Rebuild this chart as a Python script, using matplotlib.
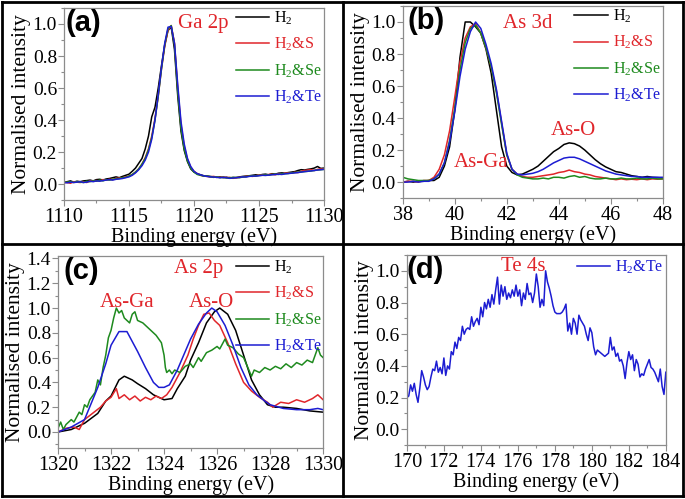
import numpy as np
import matplotlib.pyplot as plt
from matplotlib.lines import Line2D
from matplotlib.ticker import MultipleLocator, FormatStrFormatter

plt.rcParams['font.family'] = ['Liberation Serif', 'DejaVu Serif']
plt.rcParams['mathtext.fontset'] = 'custom'
plt.rcParams['mathtext.rm'] = 'Liberation Serif'
plt.rcParams['mathtext.it'] = 'Liberation Serif:italic'

labels = ['H$_2$', 'H$_2$&S', 'H$_2$&Se', 'H$_2$&Te']
colors = ['#000000', '#e0262b', '#1e8a1e', '#1c1cd2']
note_red = '#e0262b'

# (a) Ga 2p, sampled every 0.25 eV from 1110 to 1130
a_x = np.arange(1110, 1130.01, 0.25)
a_h2 = [.01, .015, .02, .012, .018, .015, .02, .022, .025, .02, .028, .03, .025, .032, .035, .04,
        .045, .04, .048, .055, .062, .08, .10, .13, .16, .22, .30, .42, .48, .60, .74, .87,
        .96, .98, .84, .55, .33, .21, .14, .095, .075, .065, .058, .052, .05, .048, .045, .042,
        .045, .04, .043, .038, .042, .04, .045, .048, .05, .052, .055, .058, .055, .06, .062, .058,
        .065, .062, .068, .07, .068, .072, .075, .078, .085, .09, .088, .092, .095, .10, .11, .098, .10]
a_s = [.01, .01, .005, .015, .012, .01, .015, .01, .02, .018, .022, .02, .028, .025, .03, .028,
       .035, .038, .04, .045, .05, .06, .075, .095, .125, .165, .22, .30, .41, .55, .72, .86,
       .96, .99, .88, .60, .37, .235, .155, .105, .08, .065, .055, .05, .048, .045, .048, .044,
       .042, .045, .04, .042, .036, .04, .042, .045, .048, .05, .048, .052, .055, .058, .055, .06,
       .062, .058, .065, .062, .068, .07, .068, .074, .072, .08, .085, .088, .09, .085, .092, .095, .095]
a_se = [.01, .012, .015, .01, .015, .012, .01, .018, .015, .02, .018, .025, .02, .028, .025, .03,
        .032, .035, .04, .042, .05, .06, .075, .095, .125, .16, .215, .29, .40, .55, .72, .87,
        .97, .99, .87, .58, .35, .22, .145, .10, .075, .06, .055, .05, .05, .046, .042, .045,
        .04, .043, .038, .04, .04, .042, .04, .044, .046, .05, .052, .05, .054, .055, .058, .056,
        .06, .062, .06, .064, .065, .066, .07, .072, .074, .076, .078, .08, .082, .085, .088, .09, .092]
a_te = [.01, .008, .012, .01, .012, .015, .01, .012, .018, .015, .02, .018, .022, .025, .028, .025,
        .03, .032, .035, .04, .045, .055, .07, .09, .115, .15, .20, .28, .40, .56, .73, .88,
        .98, .985, .88, .62, .39, .25, .16, .11, .08, .065, .058, .052, .048, .045, .044, .042,
        .04, .042, .04, .036, .038, .04, .042, .045, .044, .048, .05, .05, .052, .055, .054, .056,
        .058, .06, .062, .06, .064, .066, .068, .07, .072, .075, .078, .08, .082, .085, .088, .09, .092]

# (b) As 3d, sampled every 0.2 eV from 38 to 48
b_x = np.arange(38, 48.01, 0.2)
b_h2 = [.0, .005, .0, .005, .005, .01, .01, .03, .10, .22, .45, .78, 1.0, 1.0, .97, .93, .83,
        .68, .45, .22, .10, .06, .045, .05, .065, .08, .10, .13, .16, .19, .21, .235, .245, .24,
        .225, .20, .17, .14, .115, .095, .08, .065, .06, .05, .04, .035, .03, .035, .03, .028, .025]
b_s = [.0, .005, .005, .0, .01, .01, .03, .08, .17, .32, .53, .75, .90, .97, .99, .93, .84,
       .72, .57, .37, .17, .08, .05, .035, .03, .03, .035, .04, .045, .05, .06, .065, .075, .065,
       .06, .05, .045, .035, .03, .025, .02, .015, .02, .015, .018, .015, .02, .015, .02, .018, .02]
b_se = [.03, .02, .015, .01, .01, .01, .02, .05, .12, .26, .46, .70, .87, .96, .98, .93, .84,
        .72, .56, .36, .17, .08, .045, .03, .025, .02, .02, .025, .02, .03, .03, .025, .035, .04,
        .03, .035, .025, .02, .02, .025, .02, .02, .025, .02, .02, .025, .02, .02, .025, .02, .02]
b_te = [.0, .0, .005, .0, .005, .005, .02, .05, .12, .25, .44, .66, .83, .94, 1.0, .96, .86,
        .74, .58, .38, .18, .08, .05, .045, .05, .055, .065, .08, .10, .12, .135, .15, .155, .155,
        .145, .13, .115, .10, .085, .07, .06, .05, .045, .04, .035, .035, .03, .03, .03, .03, .03]

# (c) As 2p
c_h2_x = [1320.0, 1320.5, 1321.0, 1321.5, 1321.8, 1322.0, 1322.3, 1322.5, 1322.8, 1323.0, 1323.3,
          1323.6, 1323.8, 1324.0, 1324.3, 1324.5, 1324.8, 1325.0, 1325.3, 1325.6, 1325.9, 1326.1,
          1326.4, 1326.7, 1327.0, 1327.3, 1327.6, 1327.9, 1328.2, 1328.5, 1329.0, 1329.5, 1330.0]
c_h2_y = [.0, .02, .07, .15, .25, .29, .42, .45, .42, .39, .35, .30, .28, .26, .27, .35, .45,
          .58, .72, .88, .97, 1.0, .95, .82, .62, .42, .30, .22, .20, .20, .19, .17, .16]
c_s_x = [1320.0, 1320.3, 1320.6, 1320.8, 1321.0, 1321.3, 1321.6, 1321.8, 1322.0, 1322.2, 1322.3,
         1322.5, 1322.7, 1322.9, 1323.1, 1323.3, 1323.5, 1323.7, 1323.9, 1324.1, 1324.3, 1324.6,
         1324.9, 1325.1, 1325.3, 1325.5, 1325.7, 1325.9, 1326.1, 1326.4, 1326.7, 1327.0, 1327.3,
         1327.6, 1327.9, 1328.1, 1328.4, 1328.7, 1329.0, 1329.3, 1329.6, 1329.8, 1330.0]
c_s_y = [.0, .03, .04, .02, .10, .15, .20, .25, .28, .35, .27, .30, .26, .29, .25, .28, .26,
         .29, .27, .30, .36, .48, .62, .75, .86, .95, .96, .90, .86, .72, .55, .40, .33, .28,
         .24, .20, .24, .23, .26, .24, .27, .30, .26]
c_se_x = [1320.0, 1320.1, 1320.2, 1320.3, 1320.5, 1320.6, 1320.8, 1320.9, 1321.0, 1321.1, 1321.2,
          1321.4, 1321.5, 1321.6, 1321.7, 1321.8, 1321.9, 1322.0, 1322.1, 1322.2, 1322.3, 1322.4,
          1322.5, 1322.6, 1322.7, 1322.8, 1322.9, 1323.0, 1323.2, 1323.4, 1323.5, 1323.7, 1323.9,
          1324.0, 1324.05, 1324.1, 1324.2, 1324.3, 1324.4, 1324.6, 1324.8, 1325.0, 1325.1, 1325.3,
          1325.4, 1325.6, 1325.8, 1326.0, 1326.1, 1326.3, 1326.4, 1326.6, 1326.8, 1327.0, 1327.1,
          1327.2, 1327.3, 1327.4, 1327.6, 1327.8, 1328.0, 1328.2, 1328.4, 1328.6, 1328.8, 1329.0,
          1329.2, 1329.4, 1329.6, 1329.8, 1329.9, 1330.0]
c_se_y = [.03, .08, .02, .06, .10, .08, .16, .14, .22, .20, .26, .32, .42, .38, .52, .62, .76,
          .82, .92, 1.0, .96, .98, .92, .90, .88, .95, .97, .90, .88, .84, .82, .78, .72, .62,
          .52, .48, .50, .47, .50, .48, .53, .55, .52, .60, .57, .64, .66, .69, .67, .75, .70,
          .68, .63, .60, .55, .50, .45, .50, .48, .52, .50, .53, .51, .55, .52, .56, .54, .58,
          .56, .68, .62, .60]
c_te_x = [1320.0, 1320.5, 1321.0, 1321.5, 1321.8, 1322.0, 1322.3, 1322.6, 1323.0, 1323.3, 1323.6,
          1323.8, 1324.0, 1324.2, 1324.5, 1324.8, 1325.0, 1325.3, 1325.6, 1325.8, 1326.0, 1326.3,
          1326.6, 1326.9, 1327.2, 1327.5, 1327.8, 1328.0, 1328.5, 1329.0, 1329.5, 1329.8, 1330.0]
c_te_y = [.0, .04, .10, .36, .55, .70, .81, .81, .65, .52, .40, .36, .36, .38, .50, .65, .75,
          .87, .96, 1.0, .97, .86, .70, .52, .38, .30, .25, .22, .19, .18, .18, .19, .18]

# (d) Te 4s, sampled every 0.1 eV from 170 to 184
d_te = [.20, .21, .28, .24, .29, .22, .17, .26, .37, .33, .28, .25, .27, .33, .38, .37, .43, .36,
        .39, .35, .45, .34, .40, .38, .49, .47, .55, .51, .58, .56, .65, .60, .63, .64, .63, .71,
        .65, .68, .70, .66, .77, .71, .80, .76, .82, .77, .85, .79, .88, .96, .79, .91, .84, .90,
        .82, .86, .83, .88, .84, .91, .84, .88, .78, .86, .82, .92, .85, .86, .80, .86, .98, .90,
        .77, .82, .78, 1.0, .93, .89, .84, .78, .74, .73, .73, .73, .74, .76, .79, .62, .67, .60,
        .70, .67, .60, .72, .69, .67, .65, .60, .56, .64, .61, .52, .47, .50, .49, .48, .47, .46,
        .47, .48, .58, .50, .52, .46, .48, .43, .44, .40, .32, .42, .49, .44, .47, .37, .44, .41,
        .33, .35, .34, .38, .41, .44, .39, .38, .36, .33, .30, .38, .27, .22, .36]
d_x = np.linspace(170, 184, len(d_te))


def style(ax, xlim, ylim, xmaj, xmin, ymaj=0.2, ymin=0.1):
    ax.set_xlim(*xlim)
    ax.set_ylim(*ylim)
    ax.xaxis.set_major_locator(MultipleLocator(xmaj))
    ax.xaxis.set_minor_locator(MultipleLocator(xmin))
    ax.yaxis.set_major_locator(MultipleLocator(ymaj))
    ax.yaxis.set_minor_locator(MultipleLocator(ymin))
    ax.yaxis.set_major_formatter(FormatStrFormatter('%.1f'))
    for s in ax.spines.values():
        s.set_color('#8c8c8c')
        s.set_linewidth(0.9)
    ax.tick_params(which='both', direction='out', color='#8c8c8c', width=0.8)
    ax.tick_params(which='major', length=4)
    ax.tick_params(which='minor', length=2.5)
    ax.tick_params(axis='x', labelsize=14.5, pad=2)
    ax.tick_params(axis='y', labelsize=14, pad=1)
    ax.set_xlabel('Binding energy (eV)', fontsize=14.5, labelpad=0)
    ax.set_ylabel('Normalised intensity', fontsize=15.5, labelpad=1)


def add_legend(ax, anchor):
    leg = ax.legend(loc='upper left', bbox_to_anchor=anchor, frameon=False, fontsize=11.5,
                    handlelength=2.1, handletextpad=0.3, labelspacing=0.55,
                    borderaxespad=0, borderpad=0)
    for t, l in zip(leg.get_texts(), leg.get_lines()):
        t.set_color(l.get_color())


def tag(ax, s, x):
    ax.text(x, 0.995, s, transform=ax.transAxes, ha='left', va='top', fontsize=21,
            fontweight='bold', family='Liberation Sans')


fig = plt.figure(figsize=(6.85, 4.99), dpi=100)

# panel (a)
ax = fig.add_axes([0.0934, 0.599, 0.3796, 0.385])
for y, c, lab in zip([a_h2, a_s, a_se, a_te], colors, labels):
    ax.plot(a_x, y, color=c, lw=1.1, label=lab)
style(ax, (1110, 1130), (-0.1, 1.1), 5, 2.5)
add_legend(ax, (0.66, 0.99))
tag(ax, '(a)', 0.005)
ax.text(1118.8, 1.0, 'Ga 2p', color=note_red, fontsize=15, ha='left', va='center')

# panel (b)
ax = fig.add_axes([0.588, 0.603, 0.3796, 0.385])
for y, c, lab in zip([b_h2, b_s, b_se, b_te], colors, labels):
    ax.plot(b_x, y, color=c, lw=1.1, label=lab)
style(ax, (38, 48), (-0.1, 1.1), 2, 1)
add_legend(ax, (0.66, 0.99))
tag(ax, '(b)', 0.02)
ax.text(42.8, 0.99, 'As 3d', color=note_red, fontsize=15, ha='center', va='center')
ax.text(44.55, 0.32, 'As-O', color=note_red, fontsize=15, ha='center', va='center')
ax.text(41.0, 0.12, 'As-Ga', color=note_red, fontsize=15, ha='center', va='center')

# panel (c)
ax = fig.add_axes([0.0847, 0.102, 0.387, 0.385])
series_c = [(c_h2_x, c_h2_y), (c_s_x, c_s_y), (c_se_x, c_se_y), (c_te_x, c_te_y)]
for (x, y), c, lab in zip(series_c, colors, labels):
    ax.plot(x, y, color=c, lw=1.1, label=lab)
style(ax, (1320, 1330), (-0.13, 1.42), 2, 1)
add_legend(ax, (0.67, 0.985))
tag(ax, '(c)', 0.02)
ax.text(1325.3, 1.32, 'As 2p', color=note_red, fontsize=15, ha='center', va='center')
ax.text(1322.6, 1.045, 'As-Ga', color=note_red, fontsize=15, ha='center', va='center')
ax.text(1325.8, 1.045, 'As-O', color=note_red, fontsize=15, ha='center', va='center')

# panel (d)
ax = fig.add_axes([0.594, 0.108, 0.378, 0.381])
ax.plot(d_x, d_te, color=colors[3], lw=1.1, label=labels[3])
style(ax, (170, 184), (-0.1, 1.1), 2, 1)
add_legend(ax, (0.656, 0.98))
tag(ax, '(d)', 0.0)
ax.text(176.3, 1.03, 'Te 4s', color=note_red, fontsize=15, ha='center', va='center')

# black frames around the four panels
W, H = 685.0, 499.0
frame = [((2, 683), (2, 2)), ((2, 683), (496, 496)), ((2, 2), (2, 496)), ((683, 683), (2, 496)),
         ((343, 343), (2, 496)), ((2, 683), (244, 244))]
for xs, ys in frame:
    fig.add_artist(Line2D([v / W for v in xs], [1 - v / H for v in ys], color='black',
                          lw=2, transform=fig.transFigure))

fig.savefig('out.png', dpi=100)
